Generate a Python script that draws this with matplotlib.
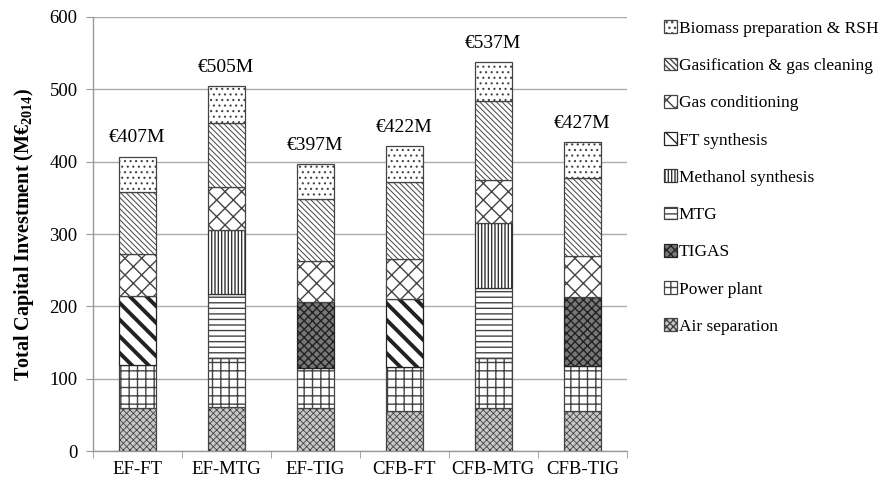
import matplotlib
matplotlib.use('Agg')
import matplotlib.pyplot as plt
from matplotlib.patches import Patch
import numpy as np

plt.rcParams['font.family'] = ['Liberation Serif', 'DejaVu Serif']
plt.rcParams['mathtext.fontset'] = 'custom'
plt.rcParams['mathtext.rm'] = 'Liberation Serif'
plt.rcParams['mathtext.bf'] = 'Liberation Serif:bold'

cases = ['EF-FT', 'EF-MTG', 'EF-TIG', 'CFB-FT', 'CFB-MTG', 'CFB-TIG']
totals = [407, 505, 397, 422, 537, 427]

# stacked bottom -> top
air_sep    = [60, 61, 59, 56, 59, 56]
power      = [59, 67, 56, 60, 70, 62]
tigas      = [0, 0, 91, 0, 0, 95]
mtg        = [0, 89, 0, 0, 97, 0]
methanol   = [0, 88, 0, 0, 89, 0]
ft_synth   = [95, 0, 0, 94, 0, 0]
gas_cond   = [58, 60, 57, 56, 60, 57]
gasif      = [86, 88, 85, 106, 109, 107]
biomass    = [49, 52, 49, 50, 53, 50]

series = [
    ('Air separation', air_sep, dict(facecolor='#c8c8c8', edgecolor='#444444', hatch='xxxxx'), 0.6),
    ('Power plant', power, dict(facecolor='white', edgecolor='#444444', hatch='++'), 1.0),
    ('TIGAS', tigas, dict(facecolor='#777777', edgecolor='#222222', hatch='xxxx'), 1.0),
    ('MTG', mtg, dict(facecolor='white', edgecolor='#444444', hatch='---'), 1.0),
    ('Methanol synthesis', methanol, dict(facecolor='white', edgecolor='#333333', hatch='|||||'), 1.0),
    ('FT synthesis', ft_synth, dict(facecolor='white', edgecolor='#222222', hatch='\\\\'), 2.8),
    ('Gas conditioning', gas_cond, dict(facecolor='white', edgecolor='#444444', hatch='xx'), 1.0),
    ('Gasification & gas cleaning', gasif, dict(facecolor='white', edgecolor='#444444', hatch='\\\\\\\\\\\\'), 0.7),
    ('Biomass preparation & RSH', biomass, dict(facecolor='white', edgecolor='#444444', hatch='...'), 0.8),
]

fig = plt.figure(figsize=(8.84, 4.83), dpi=100)
ax = fig.add_axes([0.105, 0.066, 0.604, 0.899])

x = np.arange(len(cases))
bottom = np.zeros(len(cases))
handles = []
for name, vals, style, hlw in series:
    vals = np.array(vals, dtype=float)
    with plt.rc_context({'hatch.linewidth': hlw}):
        bars = ax.bar(x, vals, 0.41, bottom=bottom, linewidth=0.9, zorder=3, **style)
        for b in bars:
            if hasattr(b, 'set_hatch_linewidth'):
                b.set_hatch_linewidth(hlw)
            if b.get_height() == 0:
                b.set_visible(False)
        h = Patch(linewidth=0.9, **style)
        if hasattr(h, 'set_hatch_linewidth'):
            h.set_hatch_linewidth(hlw)
    handles.append(h)
    bottom += vals

for xi, t in zip(x, totals):
    ax.text(xi, t + 14, '€%dM' % t, ha='center', va='bottom', fontsize=14)

ax.set_ylim(0, 600)
ax.set_xlim(-0.5, len(cases) - 0.5)
ax.set_yticks(range(0, 601, 100))
ax.yaxis.grid(True, color='#aaaaaa', linewidth=1.0, zorder=0)
ax.set_axisbelow(True)
ax.set_xticks(x)
ax.set_xticklabels(cases)
ax.set_xticks(np.arange(-0.5, len(cases), 1), minor=True)
ax.tick_params(axis='x', which='major', length=0, labelsize=13.5, pad=7)
ax.tick_params(axis='x', which='minor', length=5, color='#999999')
ax.tick_params(axis='y', length=5, color='#999999', labelsize=13.5, pad=6)
for s in ['top', 'right']:
    ax.spines[s].set_visible(False)
for s in ['left', 'bottom']:
    ax.spines[s].set_color('#999999')
    ax.spines[s].set_linewidth(1.0)

ax.set_ylabel('Total Capital Investment (M€$_{\\mathbf{2014}}$)', fontsize=14.5,
              fontweight='bold', labelpad=10)

leg = fig.legend(handles[::-1], [s[0] for s in series][::-1],
                 loc='upper left', bbox_to_anchor=(0.743, 0.972), frameon=False,
                 fontsize=12.5, handlelength=0.75, handleheight=0.75,
                 handletextpad=0.1, labelspacing=1.2, borderaxespad=0)

fig.savefig('out.png', dpi=100)
